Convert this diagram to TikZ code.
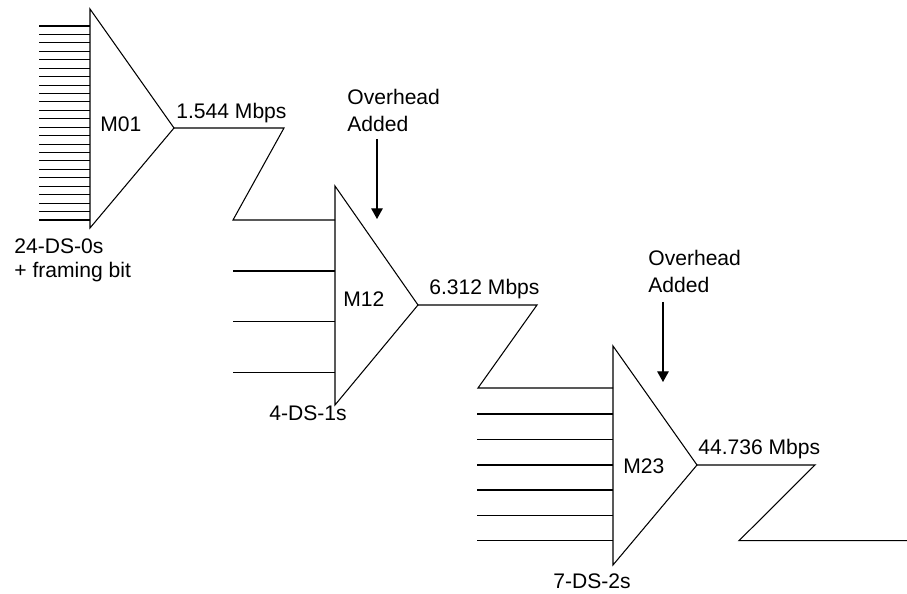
\documentclass[tikz,border=0pt]{standalone}
\usepackage{fontspec}
\setmainfont{Liberation Sans}
\usetikzlibrary{arrows.meta}

\begin{document}
\begin{tikzpicture}[
  x = 0.02cm, y = -0.02cm,
  every node/.style = {font=\fontsize{12}{15.5}\selectfont, inner sep=0pt},
  wire/.style = {line width=0.6pt},
  mux/.style  = {line width=0.6pt, line join=miter},
  txt/.style  = {anchor=base west, align=left},
  arr/.style  = {-{Triangle[length=6pt,width=6.5pt]}, line width=0.6pt}
]
\useasboundingbox (0,0) rectangle (907,594);

\coordinate (m01top) at (90,9);
\coordinate (m01bot) at (90,228);
\coordinate (m01out) at (174,128);
\coordinate (m12top) at (335,186);
\coordinate (m12bot) at (335,405);
\coordinate (m12out) at (418,305);
\coordinate (m23top) at (613,346);
\coordinate (m23bot) at (613,565);
\coordinate (m23out) at (697,465);

\coordinate (z1a) at (284,128);
\coordinate (z1b) at (233,220);
\coordinate (z2a) at (537,305);
\coordinate (z2b) at (478,388);
\coordinate (z3a) at (815,465);
\coordinate (z3b) at (739,540.7);
\coordinate (line) at (907,540.7);

\coordinate (oh1) at (377,139);
\coordinate (oh1tip) at (377,219);
\coordinate (oh2) at (663,302);
\coordinate (oh2tip) at (663,382);

\draw[mux] (m01top) -- (m01out) -- (m01bot) -- cycle;
\draw[mux] (m12top) -- (m12out) -- (m12bot) -- cycle;
\draw[mux] (m23top) -- (m23out) -- (m23bot) -- cycle;

\foreach \i in {0,...,23}
  \draw[wire] (39,26+8.435*\i) -- (m01top |- 0,26+8.435*\i);
\foreach \y in {271,321.7,372.3}
  \draw[wire] (233,\y) -- (m12top |- 0,\y);
\foreach \y in {414,439.3,465,490,515.3,540.7}
  \draw[wire] (477,\y) -- (m23top |- 0,\y);

\draw[wire] (m01out) -- (z1a) -- (z1b) -- (z1b -| m12top);
\draw[wire] (m12out) -- (z2a) -- (z2b) -- (z2b -| m23top);
\draw[wire] (m23out) -- (z3a) -- (z3b) -- (line);

\draw[arr] (oh1) -- (oh1tip);
\draw[arr] (oh2) -- (oh2tip);

\node[txt] (m01) at (100,132) {M01};
\node[txt] (m12) at (343,307) {M12};
\node[txt] (m23) at (623,474) {M23};

\node[txt] (rate1) at (176,119) {1.544 Mbps};
\node[txt] (rate2) at (429,295) {6.312 Mbps};
\node[txt] (rate3) at (698,455) {44.736 Mbps};

\node[txt, font=\fontsize{12}{14.2}\selectfont] (ds0) at (14,278) {24-DS-0s\\+ framing bit};
\node[txt] (ds1) at (269,421) {4-DS-1s};
\node[txt] (ds2) at (553,589) {7-DS-2s};

\node[txt] (ohd1) at (347,132) {Overhead\\Added};
\node[txt] (ohd2) at (648,293) {Overhead\\Added};
\end{tikzpicture}
\end{document}
